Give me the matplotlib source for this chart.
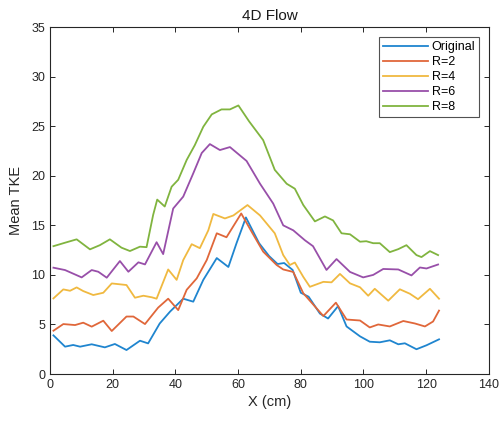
import matplotlib
matplotlib.use("Agg")
import matplotlib.pyplot as plt

plt.rcParams['font.family'] = ['Liberation Sans', 'DejaVu Sans']

title = "4D Flow"
xlabel = "X (cm)"
ylabel = "Mean TKE"
labels = ["Original", "R=2", "R=4", "R=6", "R=8"]
colors = ["#1f85cf", "#e0673a", "#f0b940", "#984fa9", "#80b43f"]

x_orig = [1.1, 4.8, 7.4, 9.6, 13.3, 17.5, 20.7, 24.4, 28.7, 31.3, 35.0, 38.3, 42.5, 45.7,
          48.9, 53.2, 56.9, 59.5, 62.5, 64.6, 66.7, 69.9, 72.6, 74.7, 77.4, 80.0, 82.5,
          86.1, 88.7, 91.9, 94.6, 98.9, 102.0, 105.2, 108.4, 111.1, 113.2, 116.9, 120.1, 124.1]
y_orig = [3.9, 2.76, 2.93, 2.76, 3.0, 2.69, 3.03, 2.42, 3.36, 3.09, 5.1, 6.3, 7.6, 7.3,
          9.5, 11.7, 10.8, 13.2, 15.8, 14.5, 13.2, 11.9, 11.1, 11.2, 10.5, 8.2, 7.8,
          6.1, 5.6, 6.85, 4.8, 3.8, 3.26, 3.2, 3.4, 3.0, 3.1, 2.5, 2.9, 3.5]

x_r2 = [1.1, 4.25, 8.0, 10.6, 13.3, 17.0, 19.7, 24.4, 26.6, 30.3, 34.5, 37.7, 40.9, 43.6,
        46.8, 50.0, 53.2, 56.3, 61.0, 64.6, 68.0, 72.3, 74.4, 77.6, 80.8, 87.2, 91.2,
        94.6, 98.9, 102.0, 104.7, 108.4, 112.7, 116.4, 119.6, 122.2, 124.1]
y_r2 = [4.37, 5.04, 4.94, 5.18, 4.78, 5.38, 4.34, 5.8, 5.8, 5.04, 6.7, 7.6, 6.45, 8.5,
        9.65, 11.5, 14.2, 13.8, 16.2, 14.2, 12.35, 11.0, 10.55, 10.3, 8.15, 5.85, 7.2,
        5.5, 5.4, 4.7, 5.0, 4.8, 5.35, 5.1, 4.8, 5.3, 6.4]

x_r4 = [1.1, 4.25, 6.4, 8.5, 10.6, 13.8, 17.0, 19.7, 24.4, 27.1, 29.8, 32.5, 34.0, 37.7,
        40.4, 42.5, 45.2, 47.8, 50.5, 52.1, 55.8, 58.5, 63.0, 67.0, 71.7, 74.4, 76.5,
        78.1, 80.8, 82.9, 87.2, 89.8, 92.5, 95.7, 98.9, 101.5, 103.6, 107.9, 111.6,
        114.8, 117.4, 121.2, 124.1]
y_r4 = [7.63, 8.54, 8.4, 8.74, 8.37, 7.97, 8.2, 9.14, 8.98, 7.7, 7.9, 7.74, 7.6, 10.55,
        9.5, 11.5, 13.1, 12.7, 14.5, 16.15, 15.7, 16.0, 17.05, 16.0, 14.2, 12.0, 11.0,
        11.25, 9.8, 8.8, 9.3, 9.25, 10.1, 9.15, 8.75, 7.9, 8.6, 7.4, 8.55,
        8.1, 7.55, 8.6, 7.6]

x_r6 = [1.1, 4.8, 10.1, 13.3, 15.4, 18.1, 22.3, 25.0, 28.2, 30.3, 34.0, 36.1, 39.3, 42.5,
        45.7, 48.4, 51.0, 54.2, 57.4, 62.7, 67.0, 71.2, 74.4, 77.6, 81.3, 83.9, 88.2,
        91.4, 95.7, 99.9, 103.1, 106.3, 111.1, 115.3, 118.0, 120.1, 123.8]
y_r6 = [10.73, 10.49, 9.75, 10.49, 10.32, 9.72, 11.4, 10.32, 11.27, 11.06, 13.3, 12.1, 16.7, 17.9,
        20.25, 22.3, 23.2, 22.6, 22.9, 21.5, 19.2, 17.2, 15.0, 14.5, 13.5, 12.9, 10.5,
        11.6, 10.3, 9.75, 10.0, 10.6, 10.55, 9.95, 10.75, 10.65, 11.05]

x_r8 = [1.1, 4.8, 8.5, 12.75, 15.9, 19.1, 22.8, 25.5, 28.7, 30.8, 32.9, 34.2, 36.6, 38.8,
        40.9, 43.6, 46.2, 48.9, 51.6, 54.7, 57.4, 60.1, 63.5, 68.0, 71.7, 75.5, 78.1,
        80.8, 84.5, 87.7, 90.3, 93.0, 95.7, 98.9, 100.9, 103.1, 105.2, 108.4, 111.1,
        113.7, 116.9, 118.5, 121.2, 123.8]
y_r8 = [12.9, 13.25, 13.59, 12.58, 13.0, 13.59, 12.75, 12.41, 12.85, 12.8, 16.05, 17.6, 16.9, 18.9,
        19.6, 21.6, 23.1, 24.95, 26.2, 26.7, 26.7, 27.1, 25.5, 23.6, 20.6, 19.2, 18.7,
        17.05, 15.4, 15.9, 15.5, 14.2, 14.1, 13.35, 13.4, 13.2, 13.2, 12.3, 12.6,
        13.0, 12.0, 11.8, 12.4, 12.0]

xticks = [0, 20, 40, 60, 80, 100, 120, 140]
yticks = [0, 5, 10, 15, 20, 25, 30, 35]

fig = plt.figure(figsize=(5.01, 4.23), dpi=100)
ax = fig.add_axes([0.0998, 0.1158, 0.876, 0.820])

series = [(x_orig, y_orig), (x_r2, y_r2), (x_r4, y_r4), (x_r6, y_r6), (x_r8, y_r8)]
for (xs, ys), lab, c in zip(series, labels, colors):
    ax.plot(xs, ys, color=c, lw=1.3, label=lab, solid_joinstyle='round')

ax.set_xlim(0, 140)
ax.set_ylim(0, 35)
ax.set_xticks(xticks)
ax.set_yticks(yticks)
ax.tick_params(direction='in', top=True, right=True, length=3.5, width=0.7,
               labelsize=9, colors='#262626', labelcolor='#262626')
for s in ax.spines.values():
    s.set_color('#262626')
    s.set_linewidth(0.8)

ax.set_title(title, fontsize=11, color='#1a1a1a', pad=5)
ax.set_xlabel(xlabel, fontsize=10.5, color='#262626', labelpad=3)
ax.set_ylabel(ylabel, fontsize=10.5, color='#262626', labelpad=6)

leg = ax.legend(loc='upper right', fontsize=9, frameon=True, fancybox=False,
                edgecolor='#262626', borderpad=0.3, labelspacing=0.25,
                handlelength=3.6, handletextpad=0.3, borderaxespad=0.8)
leg.get_frame().set_linewidth(0.8)

fig.savefig("out.png", dpi=100)
